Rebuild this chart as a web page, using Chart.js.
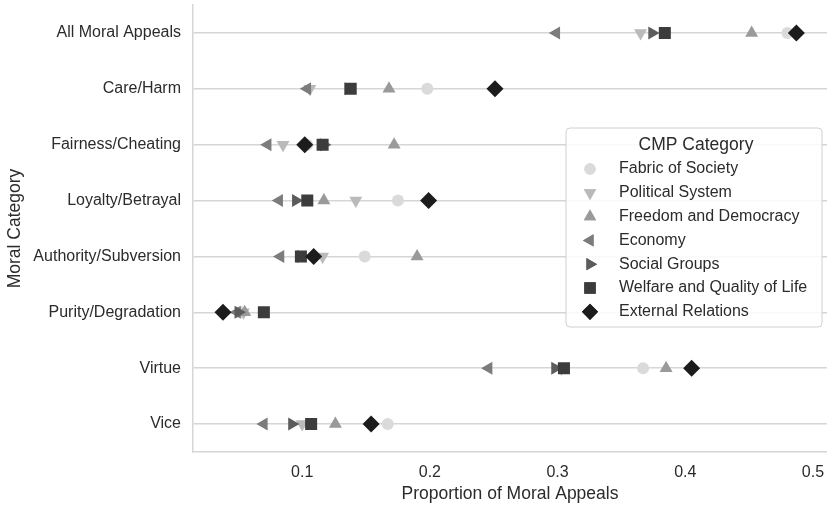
<!DOCTYPE html>
<html>
<head>
<meta charset="utf-8">
<script src="https://cdn.jsdelivr.net/npm/chart.js@4"></script>
<style>
  html, body { margin: 0; padding: 0; background: #fff; }
  #wrap { width: 827px; height: 509px; }
</style>
</head>
<body>
<div id="wrap"><canvas id="moralChart" width="827" height="509"></canvas></div>
<script>
// categories on the y axis
const categories = ['All Moral Appeals', 'Care/Harm', 'Fairness/Cheating', 'Loyalty/Betrayal',
    'Authority/Subversion', 'Purity/Degradation', 'Virtue', 'Vice'];

// proportion of moral appeals per CMP category
const fabric    = [0.480, 0.198, 0.104, 0.175, 0.149, 0.052, 0.367, 0.167];
const political = [0.365, 0.106, 0.085, 0.142, 0.116, 0.054, 0.303, 0.100];
const freedom   = [0.452, 0.168, 0.172, 0.117, 0.190, 0.055, 0.385, 0.126];
const economy   = [0.299, 0.104, 0.073, 0.082, 0.083, 0.049, 0.246, 0.070];
const social    = [0.374, 0.136, 0.117, 0.095, 0.099, 0.050, 0.298, 0.092];
const welfare   = [0.384, 0.138, 0.116, 0.104, 0.099, 0.070, 0.305, 0.107];
const external  = [0.487, 0.251, 0.102, 0.199, 0.109, 0.038, 0.405, 0.154];

const xTicks = [0.1, 0.2, 0.3, 0.4, 0.5];

const seriesNames = ['Fabric of Society', 'Political System', 'Freedom and Democracy', 'Economy',
    'Social Groups', 'Welfare and Quality of Life', 'External Relations'];
const seriesValues = [fabric, political, freedom, economy, social, welfare, external];

// marker look for each series
const markers = [
    { color: '#dadada', style: 'circle', rotation: 0, radius: 6 },
    { color: '#bababa', style: 'triangle', rotation: 180, radius: 7.5 },
    { color: '#9a9a9a', style: 'triangle', rotation: 0, radius: 7.5 },
    { color: '#7c7c7c', style: 'triangle', rotation: -90, radius: 7.5 },
    { color: '#5c5c5c', style: 'triangle', rotation: 90, radius: 7.5 },
    { color: '#3c3c3c', style: 'rect', rotation: 0, radius: 8.5 },
    { color: '#1c1c1c', style: 'rectRot', rotation: 0, radius: 8.5 }
];

const textColor = '#2b2b2b';
const gridColor = '#d6d6d6';
const fontFamily = '"Liberation Sans", Arial, sans-serif';

const datasets = seriesNames.map((name, i) => ({
    label: name,
    data: categories.map((c, j) => ({ x: seriesValues[i][j], y: c })),
    pointStyle: markers[i].style,
    rotation: markers[i].rotation,
    pointRadius: markers[i].radius,
    pointHoverRadius: markers[i].radius,
    backgroundColor: markers[i].color,
    borderColor: markers[i].color,
    pointBorderWidth: 0,
    showLine: false,
    order: seriesNames.length - i   // last series on top
}));

// legend box drawn inside the plot
const boxLegend = {
    id: 'boxLegend',
    afterDraw(chart) {
        const ctx = chart.ctx;
        const x = 566, y = 128, w = 256, h = 199;
        ctx.save();
        ctx.beginPath();
        ctx.roundRect(x, y, w, h, 4);
        ctx.fillStyle = 'rgba(255,255,255,0.85)';
        ctx.fill();
        ctx.strokeStyle = '#d0d0d0';
        ctx.lineWidth = 1;
        ctx.stroke();

        ctx.fillStyle = textColor;
        ctx.font = '17.5px ' + fontFamily;
        ctx.textAlign = 'center';
        ctx.textBaseline = 'middle';
        ctx.fillText('CMP Category', x + w / 2 + 2, y + 17);

        ctx.font = '16px ' + fontFamily;
        ctx.textAlign = 'left';
        seriesNames.forEach((name, i) => {
            const iy = y + 41 + i * 23.8;
            const m = markers[i];
            ctx.fillStyle = m.color;
            Chart.helpers.drawPoint(ctx, {
                pointStyle: m.style, rotation: m.rotation, radius: m.radius * 0.95, borderWidth: 0
            }, x + 24, iy);
            ctx.fill();
            ctx.fillStyle = textColor;
            ctx.fillText(name, x + 53, iy);
        });
        ctx.restore();
    }
};

new Chart(document.getElementById('moralChart'), {
    type: 'scatter',
    data: { datasets: datasets },
    options: {
        responsive: false,
        animation: false,
        layout: { autoPadding: false, padding: { top: 5, right: 0, left: 0, bottom: 0 } },
        plugins: {
            legend: { display: false },
            tooltip: { enabled: false }
        },
        scales: {
            x: {
                type: 'linear',
                min: 0.0145,
                max: 0.511,
                afterBuildTicks: (scale) => { scale.ticks = xTicks.map(v => ({ value: v })); },
                afterFit: (scale) => {
                    scale.height = 57;
                    scale.paddingLeft = 0;
                    scale.paddingRight = 0;
                },
                grid: { display: false, drawTicks: false },
                border: { display: true, color: gridColor, width: 1.5 },
                ticks: {
                    color: textColor,
                    padding: 11,
                    font: { size: 16, family: fontFamily },
                    callback: (v) => v.toFixed(1)
                },
                title: {
                    display: true,
                    text: 'Proportion of Moral Appeals',
                    color: textColor,
                    font: { size: 17.5, family: fontFamily },
                    padding: { top: 2, bottom: 4 }
                }
            },
            y: {
                type: 'category',
                labels: categories,
                offset: true,
                afterFit: (scale) => {
                    scale.width = 193;
                    scale.paddingTop = 0;
                    scale.paddingBottom = 0;
                },
                grid: { color: gridColor, lineWidth: 1.5, offset: false, drawTicks: false },
                border: { display: true, color: gridColor, width: 1.5 },
                ticks: {
                    color: textColor,
                    padding: 12,
                    font: { size: 16, family: fontFamily }
                },
                title: {
                    display: true,
                    text: 'Moral Category',
                    color: textColor,
                    font: { size: 17.5, family: fontFamily },
                    padding: { top: 4.5, bottom: 4 }
                }
            }
        }
    },
    plugins: [boxLegend]
});
</script>
</body>
</html>
